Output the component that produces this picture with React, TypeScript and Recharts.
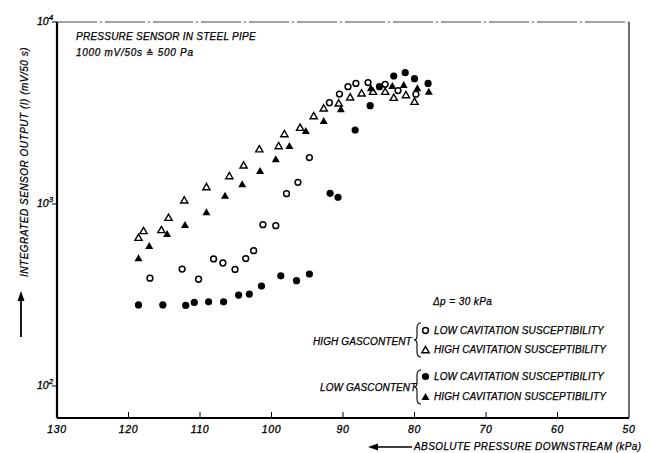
import React from "react";
import {
  ScatterChart, Scatter, XAxis, YAxis, ReferenceLine,
} from "recharts";

// absolute pressure downstream (kPa) and integrated output (mV/50 s)
const HG_LC_P = [117.0, 112.5, 110.2, 108.1, 106.8, 105.1, 103.6, 102.5, 101.2, 99.4, 97.9, 96.3, 94.7, 91.9, 90.5, 89.3, 88.2, 86.5, 84.1, 82.3, 79.8];
const HG_LC_I = [391, 439, 386, 499, 474, 437, 501, 554, 770, 760, 1140, 1316, 1800, 3600, 4020, 4410, 4600, 4645, 4545, 4200, 4010];

const HG_HC_P = [118.6, 117.9, 115.4, 114.4, 112.2, 109.1, 105.9, 103.9, 101.7, 99.0, 98.2, 96.0, 94.1, 92.7, 90.6, 89.0, 87.4, 85.8, 84.1, 82.9, 81.2, 80.0];
const HG_HC_I = [653, 711, 720, 841, 1047, 1240, 1425, 1631, 2000, 2083, 2424, 2626, 3045, 3353, 3573, 3856, 4055, 4140, 4140, 3837, 3972, 3648];

const LG_LC_P = [118.6, 115.2, 112.0, 110.8, 108.8, 106.7, 104.6, 103.1, 101.4, 98.7, 96.5, 94.7, 91.8, 90.7, 88.3, 86.2, 84.9, 82.9, 81.3, 80.0, 78.1];
const LG_LC_I = [279, 279, 277, 288, 290, 290, 316, 320, 354, 403, 379, 412, 1145, 1089, 2550, 3470, 4410, 5050, 5270, 4880, 4600];

const LG_HC_P = [118.6, 117.1, 114.6, 112.1, 109.1, 106.5, 104.1, 101.6, 99.4, 97.5, 95.2, 92.7, 90.3, 86.1, 83.1, 81.5, 79.6, 78.0];
const LG_HC_I = [503, 588, 684, 767, 900, 1111, 1282, 1517, 1762, 2083, 2518, 2858, 3313, 4325, 4450, 4505, 4325, 4140];

const X_TICKS = [130, 120, 110, 100, 90, 80, 70, 60, 50];
const Y_TICKS = [100, 1000, 10000];

const zip = (p: number[], i: number[]) => p.map((v, k) => ({ p: v, i: i[k] }));

const FONT = "'Liberation Sans', Arial, sans-serif";

type Kind = "circle" | "triangle";

function Marker({ cx = 0, cy = 0, kind, filled }: { cx?: number; cy?: number; kind: Kind; filled: boolean }) {
  if (kind === "circle") {
    return filled
      ? <circle cx={cx} cy={cy} r={3.6} fill="#000" />
      : <circle cx={cx} cy={cy} r={2.9} fill="#fff" stroke="#000" strokeWidth={1.5} />;
  }
  const h = filled ? 4 : 3.6;
  const d = `M${cx},${cy - h} L${cx + h},${cy + h * 0.75} L${cx - h},${cy + h * 0.75} Z`;
  return filled
    ? <path d={d} fill="#000" />
    : <path d={d} fill="#fff" stroke="#000" strokeWidth={1.4} strokeLinejoin="miter" />;
}

function XTick({ x = 0, y = 0, payload }: { x?: number; y?: number; payload?: { value: number } }) {
  const v = payload?.value ?? 0;
  return (
    <g>
      {v !== 130 && v !== 50 && <line x1={x} x2={x} y1={y} y2={y - 6} stroke="#000" strokeWidth={1} />}
      <text x={x} y={y + 15} textAnchor="middle" fontSize={10.5} fontStyle="italic" stroke="#000" strokeWidth={0.3}
        letterSpacing={0.6} fontFamily={FONT} fill="#000">
        {v}
      </text>
    </g>
  );
}

function YTick({ x = 0, y = 0, payload }: { x?: number; y?: number; payload?: { value: number } }) {
  const exp = Math.round(Math.log10(payload?.value ?? 1));
  return (
    <g>
      <line x1={x} x2={x - 5} y1={y} y2={y} stroke="#000" strokeWidth={1} />
      <text x={x - 20} y={y + 3} fontSize={10.5} fontStyle="italic" stroke="#000" strokeWidth={0.3}
        fontFamily={FONT} fill="#000">
        10<tspan dy={-5} fontSize={8}>{exp}</tspan>
      </text>
    </g>
  );
}

const label: React.CSSProperties = {
  position: "absolute",
  fontFamily: FONT,
  fontStyle: "italic",
  fontSize: 10,
  letterSpacing: 0.1,
  whiteSpace: "nowrap",
  color: "#000",
  lineHeight: 1,
  WebkitTextStroke: "0.25px #000",
};

function Sym({ kind, filled }: { kind: Kind; filled: boolean }) {
  return (
    <svg width={9} height={9} style={{ verticalAlign: "-1px", marginRight: 4 }}>
      <Marker cx={4.5} cy={kind === "circle" ? 4.5 : 5} kind={kind} filled={filled} />
    </svg>
  );
}

function Brace({ top }: { top: number }) {
  return (
    <svg width={10} height={36} style={{ position: "absolute", left: 413, top }}>
      <path d="M8,1 Q4,1 4,6 L4,14 Q4,18 1,18 Q4,18 4,22 L4,30 Q4,35 8,35" fill="none" stroke="#000" strokeWidth={1.1} />
    </svg>
  );
}

export default function App() {
  return (
    <div style={{ position: "absolute", left: 0, top: 0, width: 651, height: 453, background: "#fff" }}>
      <ScatterChart width={651} height={453} margin={{ top: 22, right: 22, bottom: 5, left: 7 }}>
        <XAxis
          type="number"
          dataKey="p"
          domain={[50, 130]}
          reversed
          ticks={X_TICKS}
          interval={0}
          tickSize={0}
          tickMargin={0}
          height={30}
          tick={<XTick />}
          axisLine={{ stroke: "#000", strokeWidth: 2.2 }}
          tickLine={false}
        />
        <YAxis
          type="number"
          dataKey="i"
          scale="log"
          domain={[66.7, 10000]}
          allowDataOverflow
          ticks={Y_TICKS}
          interval={0}
          tickSize={0}
          tickMargin={0}
          width={50}
          tick={<YTick />}
          axisLine={{ stroke: "#000", strokeWidth: 2.2 }}
          tickLine={false}
        />
        <ReferenceLine y={10000} stroke="#444" strokeWidth={1} strokeDasharray="40 3 2 3" />
        <ReferenceLine x={50} stroke="#222" strokeWidth={1.3} />
        <Scatter data={zip(HG_LC_P, HG_LC_I)} isAnimationActive={false}
          shape={(pr: any) => <Marker cx={pr.cx} cy={pr.cy} kind="circle" filled={false} />} />
        <Scatter data={zip(HG_HC_P, HG_HC_I)} isAnimationActive={false}
          shape={(pr: any) => <Marker cx={pr.cx} cy={pr.cy} kind="triangle" filled={false} />} />
        <Scatter data={zip(LG_LC_P, LG_LC_I)} isAnimationActive={false}
          shape={(pr: any) => <Marker cx={pr.cx} cy={pr.cy} kind="circle" filled />} />
        <Scatter data={zip(LG_HC_P, LG_HC_I)} isAnimationActive={false}
          shape={(pr: any) => <Marker cx={pr.cx} cy={pr.cy} kind="triangle" filled />} />
      </ScatterChart>

      <div style={{ ...label, left: 76, top: 32, letterSpacing: 0.25 }}>PRESSURE SENSOR IN STEEL PIPE</div>
      <div style={{ ...label, left: 76, top: 48, letterSpacing: 0.7 }}>
        1000 mV/50s <span style={{ fontFamily: "'DejaVu Sans', sans-serif", fontSize: 9 }}>≙</span> 500 Pa
      </div>

      <div style={{ ...label, left: 433, top: 297, letterSpacing: 0.4 }}>Δp = 30 kPa</div>

      <div style={{ ...label, left: 313, top: 337 }}>HIGH GASCONTENT</div>
      <Brace top={322} />
      <div style={{ ...label, left: 421, top: 326 }}><Sym kind="circle" filled={false} />LOW CAVITATION SUSCEPTIBILITY</div>
      <div style={{ ...label, left: 421, top: 345 }}><Sym kind="triangle" filled={false} />HIGH CAVITATION SUSCEPTIBILITY</div>

      <div style={{ ...label, left: 320, top: 383 }}>LOW GASCONTENT</div>
      <Brace top={369} />
      <div style={{ ...label, left: 421, top: 372 }}><Sym kind="circle" filled />LOW CAVITATION SUSCEPTIBILITY</div>
      <div style={{ ...label, left: 421, top: 392 }}><Sym kind="triangle" filled />HIGH CAVITATION SUSCEPTIBILITY</div>

      <div style={{ ...label, left: 414, top: 442, letterSpacing: 0.4 }}>ABSOLUTE PRESSURE DOWNSTREAM (kPa)</div>
      <svg width={44} height={8} style={{ position: "absolute", left: 368, top: 443 }}>
        <line x1={8} x2={44} y1={4} y2={4} stroke="#000" strokeWidth={1.5} />
        <path d="M0,4 L10,0.5 L10,7.5 Z" fill="#000" />
      </svg>

      <div
        style={{
          ...label,
          left: 25,
          top: 162,
          transform: "translate(-50%, -50%) rotate(-90deg)",
          letterSpacing: 0.5,
        }}
      >
        INTEGRATED SENSOR OUTPUT (I) (mV/50 s)
      </div>
      <svg width={8} height={46} style={{ position: "absolute", left: 17, top: 291 }}>
        <line x1={4} x2={4} y1={8} y2={46} stroke="#000" strokeWidth={1.8} />
        <path d="M4,0 L0.5,10 L7.5,10 Z" fill="#000" />
      </svg>
    </div>
  );
}
